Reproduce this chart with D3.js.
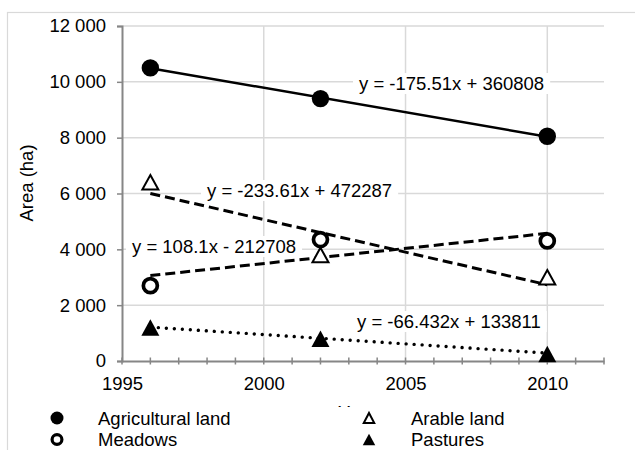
<!DOCTYPE html>
<html>
<head>
<meta charset="utf-8">
<script src="https://cdn.jsdelivr.net/npm/d3@7"></script>
<style>
  html, body { margin: 0; padding: 0; background: #fff; }
  svg { display: block; font-family: "Liberation Sans", Arial, sans-serif; }
</style>
</head>
<body>
<div id="chart"></div>
<script>
// values
const years = [1996, 2002, 2010];
const agricultural = [10500, 9400, 8050];
const arable = [6400, 3800, 3000];
const meadows = [2700, 4350, 4300];
const pastures = [1200, 800, 250];

// trend lines as printed on the chart
const trendSlopes = [-175.51, -233.61, 108.1, -66.432];
const trendIntercepts = [360808, 472287, -212708, 133811];
const trendLabels = ["y = -175.51x + 360808", "y = -233.61x + 472287", "y = 108.1x - 212708", "y = -66.432x + 133811"];

const yTickValues = [0, 2000, 4000, 6000, 8000, 10000, 12000];
const xTickValues = [1995, 2000, 2005, 2010];
const seriesNames = ["Agricultural land", "Arable land", "Meadows", "Pastures"];

const width = 635, height = 450;
const plot = { left: 122, right: 604, top: 26, bottom: 361 };
const fontSize = 18.5;

const svg = d3.select("#chart").append("svg")
  .attr("width", width)
  .attr("height", height);

// chart area border
svg.append("rect")
  .attr("x", 7.5).attr("y", 12.5)
  .attr("width", 650).attr("height", 460)
  .attr("fill", "#fff")
  .attr("stroke", "#d9d9d9")
  .attr("stroke-width", 1.2);

const x = d3.scaleLinear().domain([1995, 2012]).range([plot.left, plot.right]);
const y = d3.scaleLinear().domain([0, 12000]).range([plot.bottom, plot.top]);

const fmt = d3.formatLocale({ decimal: ".", thousands: " ", grouping: [3], currency: ["", ""] }).format(",d");

// gridlines
svg.append("g")
  .selectAll("line")
  .data(yTickValues.filter(d => d > 0))
  .join("line")
  .attr("x1", plot.left).attr("x2", plot.right)
  .attr("y1", d => y(d)).attr("y2", d => y(d))
  .attr("stroke", "#d9d9d9").attr("stroke-width", 1.5);

svg.append("g")
  .selectAll("line")
  .data(xTickValues.filter(d => d > 1995))
  .join("line")
  .attr("x1", d => x(d)).attr("x2", d => x(d))
  .attr("y1", plot.top).attr("y2", plot.bottom)
  .attr("stroke", "#d9d9d9").attr("stroke-width", 1.5);

// y axis
const yAxis = svg.append("g")
  .attr("transform", `translate(${plot.left},0)`)
  .call(d3.axisLeft(y).tickValues(yTickValues).tickSize(5).tickPadding(11).tickFormat(fmt));
yAxis.select(".domain").attr("stroke", "#868686").attr("stroke-width", 2);
yAxis.selectAll(".tick line").attr("stroke", "#868686").attr("stroke-width", 1.5);
yAxis.selectAll("text").attr("font-size", fontSize).attr("fill", "#000")
  .attr("font-family", "Liberation Sans, Arial, sans-serif");

// x axis: crossing ticks every year, labels every 5
const xAxis = svg.append("g")
  .attr("transform", `translate(0,${plot.bottom})`)
  .call(d3.axisBottom(x).tickValues(xTickValues).tickSize(0).tickPadding(16).tickFormat(d3.format("d")));
xAxis.select(".domain").attr("stroke", "#868686").attr("stroke-width", 2);
xAxis.selectAll("text").attr("font-size", fontSize).attr("fill", "#000")
  .attr("font-family", "Liberation Sans, Arial, sans-serif");
xAxis.append("g")
  .selectAll("line")
  .data(d3.range(1995, 2013))
  .join("line")
  .attr("x1", d => x(d)).attr("x2", d => x(d))
  .attr("y1", -3.5).attr("y2", 3.5)
  .attr("stroke", "#868686").attr("stroke-width", 1.5);

// axis titles
svg.append("text")
  .attr("transform", `translate(33,183) rotate(-90)`)
  .attr("text-anchor", "middle")
  .attr("font-size", fontSize)
  .text("Area (ha)");

svg.append("text")
  .attr("x", 338).attr("y", 419)
  .attr("font-size", fontSize)
  .text("Year");

// trend lines
const trendStyles = [
  { dash: null, width: 2.5, cap: "butt" },
  { dash: "10,5", width: 3, cap: "butt" },
  { dash: "10,5", width: 3, cap: "butt" },
  { dash: "0.01,8", width: 3.4, cap: "round" }
];
const trendSpan = [years[0], years[years.length - 1]];
const line = d3.line().x(d => x(d[0])).y(d => y(d[1]));

trendSlopes.forEach((m, i) => {
  const pts = trendSpan.map(t => [t, m * t + trendIntercepts[i]]);
  svg.append("path")
    .attr("d", line(pts))
    .attr("fill", "none")
    .attr("stroke", "#000")
    .attr("stroke-width", trendStyles[i].width)
    .attr("stroke-linecap", trendStyles[i].cap)
    .attr("stroke-dasharray", trendStyles[i].dash);
});

// markers
function triangle(w, h) {
  return `M0,${-h / 2}L${w / 2},${h / 2}L${-w / 2},${h / 2}Z`;
}

const markers = svg.append("g");

markers.selectAll(".agri")
  .data(years.map((t, i) => [t, agricultural[i]]))
  .join("circle")
  .attr("cx", d => x(d[0])).attr("cy", d => y(d[1]))
  .attr("r", 8.7).attr("fill", "#000");

markers.selectAll(".mead")
  .data(years.map((t, i) => [t, meadows[i]]))
  .join("circle")
  .attr("cx", d => x(d[0])).attr("cy", d => y(d[1]))
  .attr("r", 7).attr("fill", "#fff").attr("stroke", "#000").attr("stroke-width", 3.7);

markers.selectAll(".arab")
  .data(years.map((t, i) => [t, arable[i]]))
  .join("path")
  .attr("transform", d => `translate(${x(d[0])},${y(d[1])})`)
  .attr("d", triangle(16, 14.5))
  .attr("fill", "#fff").attr("stroke", "#000").attr("stroke-width", 2);

markers.selectAll(".past")
  .data(years.map((t, i) => [t, pastures[i]]))
  .join("path")
  .attr("transform", d => `translate(${x(d[0])},${y(d[1])})`)
  .attr("d", triangle(18, 16.5))
  .attr("fill", "#000");

// trend equation labels with white backing
const labelPos = [
  { x: 359, y: 90 },
  { x: 207, y: 197 },
  { x: 132, y: 253 },
  { x: 357, y: 328 }
];
trendLabels.forEach((txt, i) => {
  const g = svg.append("g");
  const t = g.append("text")
    .attr("x", labelPos[i].x).attr("y", labelPos[i].y)
    .attr("font-size", fontSize)
    .text(txt);
  const bb = t.node().getBBox();
  g.insert("rect", "text")
    .attr("x", bb.x - 6).attr("y", bb.y)
    .attr("width", bb.width + 12).attr("height", bb.height)
    .attr("fill", "#fff");
});

// legend
svg.append("rect")
  .attr("x", 20).attr("y", 407)
  .attr("width", 600).attr("height", 43)
  .attr("fill", "#fff");

const legend = [
  { name: seriesNames[0], mx: 57, tx: 98, cy: 418 },
  { name: seriesNames[2], mx: 57, tx: 98, cy: 439.5 },
  { name: seriesNames[1], mx: 369, tx: 411, cy: 418 },
  { name: seriesNames[3], mx: 369, tx: 411, cy: 439.5 }
];
const lg = svg.append("g");
lg.append("circle").attr("cx", legend[0].mx).attr("cy", legend[0].cy).attr("r", 6.5).attr("fill", "#000");
lg.append("circle").attr("cx", legend[1].mx).attr("cy", legend[1].cy).attr("r", 4.9)
  .attr("fill", "#fff").attr("stroke", "#000").attr("stroke-width", 3.2);
lg.append("path").attr("transform", `translate(${legend[2].mx},${legend[2].cy})`)
  .attr("d", triangle(10.5, 10)).attr("fill", "#fff").attr("stroke", "#000").attr("stroke-width", 2);
lg.append("path").attr("transform", `translate(${legend[3].mx},${legend[3].cy})`)
  .attr("d", triangle(12.5, 11.5)).attr("fill", "#000");
lg.selectAll("text")
  .data(legend)
  .join("text")
  .attr("x", d => d.tx).attr("y", d => d.cy)
  .attr("dy", "0.36em")
  .attr("font-size", fontSize)
  .text(d => d.name);
</script>
</body>
</html>
